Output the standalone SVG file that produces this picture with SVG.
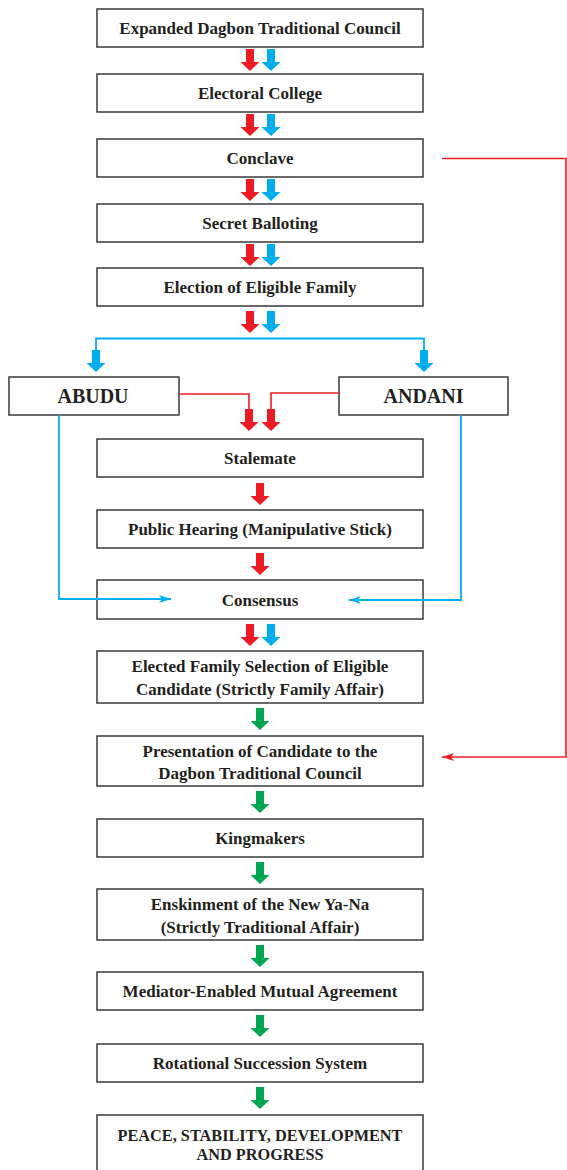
<svg xmlns="http://www.w3.org/2000/svg" xmlns:xlink="http://www.w3.org/1999/xlink" width="567" height="1170" viewBox="0 0 567 1170">
<style>
.box{fill:#fff;stroke:#3a3a3a;stroke-width:1.5}
.t{font-family:"Liberation Serif","Times New Roman",serif;font-weight:bold;font-size:17px;fill:#231f20;text-anchor:middle}
.big{font-size:20px}
.caps{font-size:16.3px}
.red{fill:#ed1c24}
.blue{fill:#00aeef}
.green{fill:#00a651}
.lr{fill:none;stroke:#ed1c24;stroke-width:1.6}
.lb{fill:none;stroke:#00aeef;stroke-width:1.8}
</style>
<defs>
<path id="arr" d="M-4,0 H4 V13 H9.5 L0,22 L-9.5,13 H-4 Z"/>
<marker id="mb" viewBox="0 0 12 8" refX="12" refY="4" markerWidth="12" markerHeight="8" markerUnits="userSpaceOnUse" orient="auto"><path d="M0,0 L12,4 L0,8 L3,4 Z" fill="#00aeef"/></marker>
<marker id="mr" viewBox="0 0 12 8" refX="12" refY="4" markerWidth="12" markerHeight="8" markerUnits="userSpaceOnUse" orient="auto"><path d="M0,0 L12,4 L0,8 L3,4 Z" fill="#ed1c24"/></marker>
</defs>
<g id="n1"><rect class="box" x="97" y="9" width="326" height="38"/><text class="t" x="260" y="34">Expanded Dagbon Traditional Council</text></g>
<g id="n2"><rect class="box" x="97" y="74" width="326" height="38"/><text class="t" x="260" y="99">Electoral College</text></g>
<g id="n3"><rect class="box" x="97" y="139" width="326" height="38"/><text class="t" x="260" y="164">Conclave</text></g>
<g id="n4"><rect class="box" x="97" y="204" width="326" height="38"/><text class="t" x="260" y="229">Secret Balloting</text></g>
<g id="n5"><rect class="box" x="97" y="268" width="326" height="38"/><text class="t" x="260" y="293">Election of Eligible Family</text></g>
<g id="abudu"><rect class="box" x="9" y="377" width="170" height="38"/><text class="t big" x="93" y="403">ABUDU</text></g>
<g id="andani"><rect class="box" x="339" y="377" width="169" height="38"/><text class="t big" x="423.5" y="403">ANDANI</text></g>
<g id="n6"><rect class="box" x="97" y="439" width="326" height="38"/><text class="t" x="260" y="464">Stalemate</text></g>
<g id="n7"><rect class="box" x="97" y="510" width="326" height="38"/><text class="t" x="260" y="535">Public Hearing (Manipulative Stick)</text></g>
<g id="n8"><rect class="box" x="97" y="580" width="326" height="39"/><text class="t" x="260" y="606">Consensus</text></g>
<g id="n9"><rect class="box" x="97" y="651" width="326" height="52"/><text class="t" x="260" y="672">Elected Family Selection of Eligible</text><text class="t" x="260" y="695">Candidate (Strictly Family Affair)</text></g>
<g id="n10"><rect class="box" x="97" y="736" width="326" height="50"/><text class="t" x="260" y="757">Presentation of Candidate to the</text><text class="t" x="260" y="779">Dagbon Traditional Council</text></g>
<g id="n11"><rect class="box" x="97" y="819" width="326" height="38"/><text class="t" x="260" y="844">Kingmakers</text></g>
<g id="n12"><rect class="box" x="97" y="889" width="326" height="51"/><text class="t" x="260" y="910">Enskinment of the New Ya-Na</text><text class="t" x="260" y="933">(Strictly Traditional Affair)</text></g>
<g id="n13"><rect class="box" x="97" y="972" width="326" height="38"/><text class="t" x="260" y="997">Mediator-Enabled Mutual Agreement</text></g>
<g id="n14"><rect class="box" x="97" y="1044" width="326" height="38"/><text class="t" x="260" y="1069">Rotational Succession System</text></g>
<g id="n15"><rect class="box" x="97" y="1115" width="326" height="60"/><text class="t caps" x="260" y="1141">PEACE, STABILITY, DEVELOPMENT</text><text class="t caps" x="260" y="1160">AND PROGRESS</text></g>
<g id="connectors">
<use href="#arr" class="red" x="250" y="49"/><use href="#arr" class="blue" x="271" y="49"/>
<use href="#arr" class="red" x="250" y="114"/><use href="#arr" class="blue" x="271" y="114"/>
<use href="#arr" class="red" x="250" y="179"/><use href="#arr" class="blue" x="271" y="179"/>
<use href="#arr" class="red" x="250" y="244"/><use href="#arr" class="blue" x="271" y="244"/>
<use href="#arr" class="red" x="250" y="311"/><use href="#arr" class="blue" x="271" y="311"/>
<polyline class="lb" points="96,362 96,338.5 424,338.5 424,362"/>
<use href="#arr" class="blue" x="96" y="350"/><use href="#arr" class="blue" x="424" y="350"/>
<polyline class="lr" points="179,394 249,394 249,415"/>
<polyline class="lr" points="339,393 271,393 271,415"/>
<use href="#arr" class="red" x="249" y="409"/><use href="#arr" class="red" x="271" y="409"/>
<use href="#arr" class="red" x="260" y="483"/>
<use href="#arr" class="red" x="260" y="553"/>
<polyline class="lb" points="59,415 59,599 171,599" marker-end="url(#mb)"/>
<polyline class="lb" points="461,415 461,600 349,600" marker-end="url(#mb)"/>
<use href="#arr" class="red" x="250" y="624"/><use href="#arr" class="blue" x="271" y="624"/>
<polyline class="lr" points="442,158.5 566,158.5 566,757 442,757" marker-end="url(#mr)"/>
<use href="#arr" class="green" x="260" y="708"/>
<use href="#arr" class="green" x="260" y="791"/>
<use href="#arr" class="green" x="260" y="862"/>
<use href="#arr" class="green" x="260" y="945"/>
<use href="#arr" class="green" x="260" y="1015"/>
<use href="#arr" class="green" x="260" y="1087"/>
</g>
</svg>
